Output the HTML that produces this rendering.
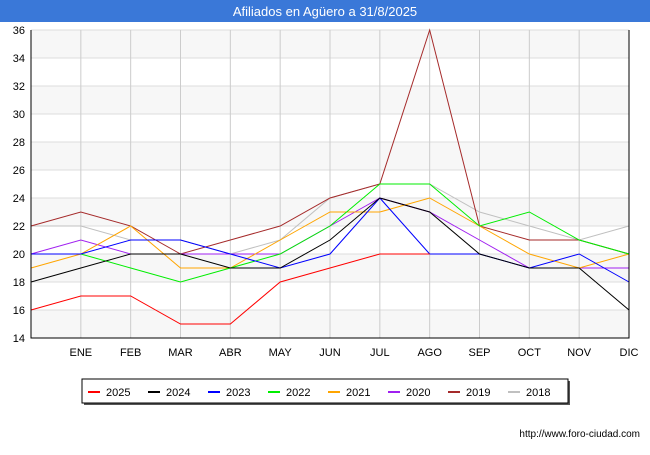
<!DOCTYPE html>
<html><head><meta charset="utf-8"><style>
body{margin:0;background:#fff;font-family:"Liberation Sans",sans-serif;}
</style></head><body>
<svg width="650" height="450" xmlns="http://www.w3.org/2000/svg" font-family="Liberation Sans, sans-serif">
<rect x="0" y="0" width="650" height="450" fill="#fff"/>
<rect x="0" y="0" width="650" height="22" fill="#3a78d8"/>
<text x="325" y="16" text-anchor="middle" fill="#fff" font-size="13">Afiliados en Agüero a 31/8/2025</text>
<g id="grid"></g>
<g id="series"></g>
<g id="axes"></g>
<text x="640" y="437" text-anchor="end" font-size="10" fill="#000">http://www.foro-ciudad.com</text>
<g id="legend"></g>
</svg>
<script>
const months=["","ENE","FEB","MAR","ABR","MAY","JUN","JUL","AGO","SEP","OCT","NOV","DIC"];
const yTicks=[14,16,18,20,22,24,26,28,30,32,34,36];
const seriesNames=["2025","2024","2023","2022","2021","2020","2019","2018"];
const seriesColors=["#ff0000","#000000","#0000ff","#00ee00","#ffa500","#a020f0","#a52a2a","#c0c0c0"];
const s2025=[16,17,17,15,15,18,19,20,20];
const s2024=[18,19,20,20,19,19,21,24,23,20,19,19,16];
const s2023=[20,20,21,21,20,19,20,24,20,20,19,20,18];
const s2022=[20,20,19,18,19,20,22,25,25,22,23,21,20];
const s2021=[19,20,22,19,19,21,23,23,24,22,20,19,20];
const s2020=[20,21,20,20,20,20,22,24,23,21,19,19,19];
const s2019=[22,23,22,20,21,22,24,25,36,22,21,21,20];
const s2018=[22,22,21,21,20,21,24,25,25,23,22,21,22];
const allSeries=[s2025,s2024,s2023,s2022,s2021,s2020,s2019,s2018];
const X0=31,X1=629,Y0=338,Y1=30,YMIN=14,YMAX=36;
const xs=i=>X0+i*(X1-X0)/12;
const ys=v=>Y0-(v-YMIN)*(Y0-Y1)/(YMAX-YMIN);
const NS="http://www.w3.org/2000/svg";
function mk(t,a,p){const e=document.createElementNS(NS,t);for(const k in a)e.setAttribute(k,a[k]);p.appendChild(e);return e;}
const grid=document.getElementById('grid'),axes=document.getElementById('axes'),ser=document.getElementById('series'),leg=document.getElementById('legend');
for(let i=0;i<yTicks.length-1;i++){
 if(i%2===0){const b=mk('rect',{x:X0,y:ys(yTicks[i+1]),width:X1-X0,height:ys(yTicks[i])-ys(yTicks[i+1]),fill:'#f7f7f7'},grid);
 
 }
}
yTicks.forEach(v=>{
 const l=mk('line',{x1:X0,x2:X1,y1:ys(v),y2:ys(v),stroke:'#dddddd','stroke-width':1},grid);
 
 
 const t=mk('text',{x:X0-6,y:ys(v)+4,'text-anchor':'end','font-size':11,fill:'#000'},axes);t.textContent=v;
 
 
});
months.forEach((m,i)=>{
 if(i>0){const l=mk('line',{x1:xs(i),x2:xs(i),y1:Y1,y2:Y0,stroke:'#cccccc','stroke-width':1},grid);
 
 }
 if(m){const t=mk('text',{x:xs(i),y:356,'text-anchor':'middle','font-size':11,fill:'#000'},axes);t.textContent=m;
 
 }
});
const ax=mk('path',{d:`M${X0} ${Y1}V${Y0}H${X1}V${Y1}`,fill:'none',stroke:'#000','stroke-width':1},axes);


for(let k=allSeries.length-1;k>=0;k--){
 const d=allSeries[k].map((v,i)=>(i?'L':'M')+xs(i)+' '+ys(v)).join('');
 const p=mk('path',{d,fill:'none',stroke:seriesColors[k],'stroke-width':1},ser);
 
 
}
const lb=mk('rect',{x:84,y:381,width:486,height:24,fill:'#555'},leg);


const lr=mk('rect',{x:82,y:379,width:486,height:24,fill:'#fff',stroke:'#000','stroke-width':1},leg);


seriesNames.forEach((n,k)=>{
 const x=88+k*60;
 const g=mk('g',{},leg);
 
 
 mk('line',{x1:x,x2:x+12,y1:392,y2:392,stroke:seriesColors[k],'stroke-width':2},g);
 const t=mk('text',{x:x+18,y:396,'font-size':11,fill:'#000'},g);t.textContent=n;
});
</script>
</body></html>
